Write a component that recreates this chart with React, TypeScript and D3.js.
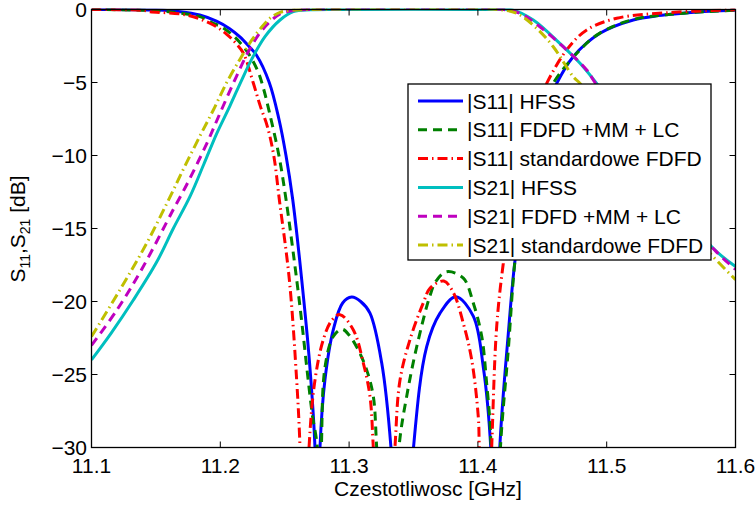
import React from "react";
import * as d3 from "d3";

// ---------- data (frequency GHz, dB) ----------
const xTicks = [11.1, 11.2, 11.3, 11.4, 11.5, 11.6];
const yTicks = [0, -5, -10, -15, -20, -25, -30];
const xLabel = "Czestotliwosc [GHz]";

const s11Hfss: [number, number][] = [
  [11.1, 0], [11.13, -0.01], [11.15, -0.04], [11.169, -0.15], [11.184, -0.38], [11.197, -0.8],
  [11.207, -1.3], [11.215, -1.86], [11.222, -2.5], [11.228, -3.12], [11.238, -5.0], [11.2455, -7.5],
  [11.251, -10.0], [11.2562, -13.0], [11.2632, -18.5], [11.2693, -24.2], [11.2735, -30], [11.2755, -42],
  [11.2774, -30], [11.2812, -25.4], [11.2877, -21.95], [11.295, -20.1], [11.302, -19.7], [11.309, -20.0],
  [11.3162, -20.8], [11.3253, -24.2], [11.3325, -30], [11.341, -45], [11.35, -30], [11.3602, -23.1],
  [11.3706, -20.8], [11.3828, -19.67], [11.3964, -21.0], [11.4042, -24.5], [11.41, -30], [11.4135, -42],
  [11.417, -30], [11.4236, -22.2], [11.4288, -17.2], [11.436, -13.0], [11.445, -9.3], [11.454, -6.6],
  [11.4612, -5.06], [11.474, -3.23], [11.4948, -1.63], [11.5206, -0.72], [11.54, -0.42], [11.559, -0.26],
  [11.58, -0.12], [11.6, -0.05],
];

const s11Fdfd: [number, number][] = [
  [11.1, 0], [11.14, -0.05], [11.165, -0.2], [11.1842, -0.49], [11.1946, -0.95], [11.2011, -1.2],
  [11.2114, -1.9], [11.2217, -3.0], [11.2295, -4.3], [11.2335, -5.4], [11.238, -7.0], [11.2455, -10.0],
  [11.251, -13.0], [11.2593, -18.5], [11.2635, -21.6], [11.2675, -24.8], [11.2715, -27.8], [11.2753, -30],
  [11.277, -40], [11.2785, -30], [11.2813, -24.5], [11.2877, -22.4], [11.2945, -21.9], [11.3, -22.3],
  [11.307, -23.3], [11.3137, -24.7], [11.3188, -26.5], [11.3214, -30], [11.33, -45], [11.3387, -30],
  [11.3447, -26.5], [11.3525, -23.1], [11.3628, -19.6], [11.3675, -18.6], [11.3758, -17.96], [11.3887, -18.4],
  [11.3964, -20.1], [11.403, -22.4], [11.4068, -25.6], [11.4094, -28.3], [11.4102, -30], [11.4138, -40],
  [11.4175, -30], [11.4236, -23.3], [11.4288, -17.2], [11.435, -13.2], [11.444, -9.4], [11.453, -6.5],
  [11.4585, -5.06], [11.4817, -2.55], [11.495, -1.6], [11.52, -0.7], [11.56, -0.25], [11.6, -0.05],
];

const s11Std: [number, number][] = [
  [11.1, 0], [11.14, -0.06], [11.1455, -0.15], [11.1739, -0.38], [11.1946, -1.06], [11.205, -1.7],
  [11.212, -2.3], [11.218, -3.0], [11.2255, -5.0], [11.231, -6.6], [11.2365, -8.0], [11.2415, -10.0],
  [11.2458, -13.0], [11.2536, -18.5], [11.2593, -25.4], [11.2619, -30], [11.2654, -42], [11.2689, -30],
  [11.2735, -25.4], [11.28, -22.6], [11.2865, -21.3], [11.2929, -20.9], [11.3033, -21.95], [11.311, -24.2],
  [11.3162, -26.5], [11.3188, -30], [11.327, -45], [11.3356, -30], [11.3395, -25.4], [11.3473, -22.6],
  [11.3576, -20.1], [11.3628, -19.1], [11.3735, -18.6], [11.381, -19.4], [11.3887, -21.5], [11.3952, -24.0],
  [11.4003, -27.9], [11.4011, -30], [11.406, -42], [11.4107, -30], [11.4146, -21.7], [11.4197, -17.4],
  [11.428, -12.5], [11.438, -8.8], [11.446, -6.6], [11.4534, -5.06], [11.4689, -2.77], [11.4845, -1.4],
  [11.5078, -0.6], [11.5466, -0.22], [11.6, -0.02],
];

const s21Hfss: [number, number][] = [
  [11.1, -24.0], [11.115, -22.2], [11.1325, -19.9], [11.1506, -17.3], [11.1635, -15.0], [11.1765, -12.8],
  [11.1872, -10.6], [11.1972, -8.5], [11.2075, -6.6], [11.2166, -4.83], [11.2244, -3.4], [11.2347, -1.86],
  [11.2464, -0.72], [11.2567, -0.15], [11.27, -0.02], [11.3, 0], [11.4, 0], [11.4275, -0.04],
  [11.443, -0.72], [11.4636, -2.32], [11.4793, -3.68], [11.4922, -5.06], [11.51, -7.2], [11.53, -9.9],
  [11.555, -13.0], [11.5815, -16.25], [11.6, -17.6],
];

const s21Fdfd: [number, number][] = [
  [11.1, -23.0], [11.1196, -20.6], [11.1402, -17.6], [11.1635, -13.7], [11.1739, -12.0], [11.1894, -9.2],
  [11.1998, -7.1], [11.2114, -4.8], [11.2217, -2.9], [11.2308, -1.6], [11.2386, -0.83], [11.2464, -0.3],
  [11.256, -0.08], [11.27, 0], [11.42, 0], [11.4326, -0.26], [11.4481, -1.18], [11.4662, -2.55],
  [11.4845, -4.14], [11.4896, -4.83], [11.505, -6.9], [11.525, -9.6], [11.55, -12.9], [11.5841, -16.5],
  [11.6, -17.8],
];

const s21Std: [number, number][] = [
  [11.1, -22.4], [11.1221, -19.2], [11.1429, -16.0], [11.1584, -13.3], [11.171, -11.0], [11.184, -8.7],
  [11.1945, -6.9], [11.205, -5.0], [11.2153, -3.4], [11.2244, -2.1], [11.2308, -1.35], [11.2386, -0.6],
  [11.2464, -0.2], [11.255, -0.05], [11.27, 0], [11.415, 0], [11.4301, -0.26], [11.4456, -1.29],
  [11.4585, -2.55], [11.474, -4.6], [11.4793, -5.06], [11.5, -7.6], [11.525, -10.7], [11.55, -13.6],
  [11.5802, -16.7], [11.6, -18.5],
];

const legendLabels = [
  "|S11| HFSS",
  "|S11| FDFD +MM + LC",
  "|S11| standardowe FDFD",
  "|S21| HFSS",
  "|S21| FDFD +MM + LC",
  "|S21| standardowe FDFD",
];

// ---------- styling ----------
const DASH = "9,6";
const DASHDOT = "10,4,1.5,4";
const seriesList = [
  { data: s11Hfss, color: "#0000FF", dash: "none" },
  { data: s11Fdfd, color: "#008000", dash: DASH },
  { data: s11Std, color: "#FF0000", dash: DASHDOT },
  { data: s21Hfss, color: "#00BFBF", dash: "none" },
  { data: s21Fdfd, color: "#BF00BF", dash: DASH },
  { data: s21Std, color: "#BFBF00", dash: DASHDOT },
];

const W = 756;
const H = 506;
const left = 91.5;
const right = 735.5;
const top = 9.5;
const bottom = 447.5;
const FONT = "'Liberation Sans', Arial, Helvetica, sans-serif";

export default function App() {
  const x = d3.scaleLinear().domain([11.1, 11.6]).range([left, right]);
  const y = d3.scaleLinear().domain([-30, 0]).range([bottom, top]);
  const line = d3
    .line<[number, number]>()
    .x((d) => x(d[0]))
    .y((d) => y(d[1]))
    .curve(d3.curveCatmullRom.alpha(0.5));

  const tickLen = 6;
  const legX = 408;
  const legY = 84;
  const legW = 303;
  const legH = 176;
  const rowY0 = 101;
  const rowStep = 28.8;

  return (
    <div style={{ position: "absolute", left: 0, top: 0 }}>
      <svg width={W} height={H} style={{ display: "block", background: "#fff" }} fontFamily={FONT}>
        <defs>
          <clipPath id="plotClip">
            <rect x={left} y={top - 1} width={right - left} height={bottom - top + 1} />
          </clipPath>
        </defs>
        <rect x={0} y={0} width={W} height={H} fill="#fff" />
        <g clipPath="url(#plotClip)">
          {seriesList.map((s, i) => (
            <path
              key={i}
              d={line(s.data) || ""}
              fill="none"
              stroke={s.color}
              strokeWidth={3}
              strokeDasharray={s.dash}
            />
          ))}
        </g>
        {/* axes box */}
        <rect x={left} y={top} width={right - left} height={bottom - top} fill="none" stroke="#000" strokeWidth={1.3} />
        {xTicks.map((t) => (
          <g key={"xt" + t}>
            <line x1={x(t)} x2={x(t)} y1={bottom} y2={bottom - tickLen} stroke="#000" strokeWidth={1} />
            <line x1={x(t)} x2={x(t)} y1={top} y2={top + tickLen} stroke="#000" strokeWidth={1} />
            <text x={x(t)} y={473} fontSize={21} textAnchor="middle" fill="#000">
              {t.toFixed(1)}
            </text>
          </g>
        ))}
        {yTicks.map((t) => (
          <g key={"yt" + t}>
            <line x1={left} x2={left + tickLen} y1={y(t)} y2={y(t)} stroke="#000" strokeWidth={1} />
            <line x1={right} x2={right - tickLen} y1={y(t)} y2={y(t)} stroke="#000" strokeWidth={1} />
            <text x={87} y={y(t)} dy="0.36em" fontSize={21} textAnchor="end" fill="#000">
              {t === 0 ? "0" : "\u2212" + Math.abs(t)}
            </text>
          </g>
        ))}
        <text x={428} y={495.5} fontSize={21} textAnchor="middle" fill="#000">
          {xLabel}
        </text>
        <text transform="translate(24.5,229) rotate(-90)" fontSize={21} textAnchor="middle" fill="#000">
          <tspan>S</tspan>
          <tspan fontSize={14} dy={5}>11</tspan>
          <tspan dy={-5}>,S</tspan>
          <tspan fontSize={14} dy={5}>21</tspan>
          <tspan dy={-5}> [dB]</tspan>
        </text>
        {/* legend */}
        <rect x={legX} y={legY} width={legW} height={legH} fill="#fff" stroke="#000" strokeWidth={1.3} />
        {seriesList.map((s, i) => {
          const ry = rowY0 + i * rowStep;
          return (
            <g key={"lg" + i}>
              <line x1={418} x2={463} y1={ry} y2={ry} stroke={s.color} strokeWidth={3} strokeDasharray={s.dash} />
              <text x={467} y={ry} dy="0.36em" fontSize={21} fill="#000">
                {legendLabels[i]}
              </text>
            </g>
          );
        })}
      </svg>
    </div>
  );
}
